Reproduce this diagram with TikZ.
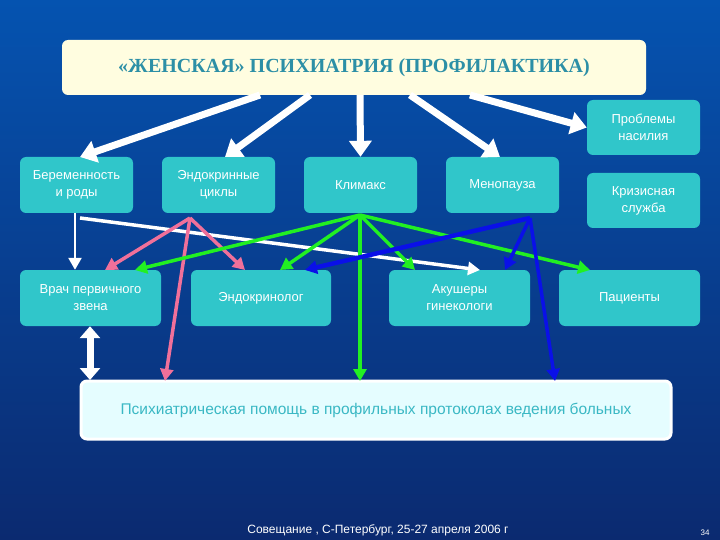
\documentclass[tikz,border=0pt]{standalone}
\usepackage{fontspec}
\setmainfont{Liberation Sans}
\newfontfamily\serifb{Liberation Serif}
\usetikzlibrary{arrows.meta}
\definecolor{bxc}{HTML}{30C6CA}
\definecolor{bgtop}{HTML}{0553B0}
\definecolor{bgbot}{HTML}{0B2A70}
\definecolor{ttl}{HTML}{2C8FA6}
\definecolor{pinkc}{HTML}{F0709A}
\definecolor{greenc}{HTML}{22F022}
\definecolor{bluec}{HTML}{0A10E8}
\definecolor{ptxt}{HTML}{3AB8C4}
\begin{document}
\begin{tikzpicture}[x=1pt,y=-1pt,
 bx/.style={fill=bxc,rounded corners=6pt,text=white,font=\fontsize{13}{17}\selectfont,align=center,inner sep=0pt},
 wbig/.style={draw=white,line width=7pt,-{Triangle[length=16pt,width=22pt]}},
 thin/.style={line width=3.5pt,-{Triangle[length=12pt,width=13pt]}}]
\shade[top color=bgtop,bottom color=bgbot] (0,0) rectangle (720,540);
\useasboundingbox (0,0) rectangle (720,540);
\node[fill=yellow!12,rounded corners=6pt,minimum width=584pt,minimum height=55pt,text=ttl,font=\serifb\bfseries\fontsize{20}{24}\selectfont] (t) at (354,67.5) {«ЖЕНСКАЯ» ПСИХИАТРИЯ (ПРОФИЛАКТИКА)};
\node[bx,minimum width=113pt,minimum height=56pt] (b1) at (76.5,185) {Беременность\\и роды};
\node[bx,minimum width=113pt,minimum height=56pt] (b2) at (218.5,185) {Эндокринные\\циклы};
\node[bx,minimum width=113pt,minimum height=56pt] (b3) at (360.5,185) {Климакс};
\node[bx,minimum width=113pt,minimum height=56pt] (b4) at (502.5,185) {Менопауза};
\node[bx,minimum width=113pt,minimum height=55pt] (b5) at (643.5,127.5) {Проблемы\\насилия};
\node[bx,minimum width=113pt,minimum height=55pt] (b6) at (643.5,200.5) {Кризисная\\служба};
\node[bx,minimum width=141pt,minimum height=56pt] (c1) at (90.5,298) {Врач первичного\\звена};
\node[bx,minimum width=140pt,minimum height=56pt] (c2) at (261,298) {Эндокринолог};
\node[bx,minimum width=141pt,minimum height=56pt] (c3) at (459.5,298) {Акушеры\\гинекологи};
\node[bx,minimum width=141pt,minimum height=56pt] (c4) at (629.5,298) {Пациенты};
\node[fill=blue!8!cyan!10,draw=white,line width=3pt,rounded corners=6pt,minimum width=590pt,minimum height=58pt,text=ptxt,font=\fontsize{15.5}{18}\selectfont] (p) at (376,410) {Психиатрическая помощь в профильных протоколах ведения больных};
\coordinate (t1) at (260,95); \coordinate (t2) at (310,95); \coordinate (t3) at (360,95); \coordinate (t4) at (410,95); \coordinate (t5) at (470,95);
\draw[wbig] (t1) -- (80,157);
\draw[wbig] (t2) -- (225,157);
\draw[wbig] (t3) -- (b3.north);
\draw[wbig] (t4) -- (500,157);
\draw[wbig] (t5) -- (b5.west);
\draw[line width=2.5pt,white,-{Triangle[length=12pt,width=13pt]}] (75,213) -- (c1.north -| 75,0);
\draw[thin,white] (80,218) -- (480,270);
\coordinate (pk) at (190,218);
\draw[thin,pinkc] (pk) -- (105,270);
\draw[thin,pinkc] (pk) -- (245,270);
\draw[thin,pinkc] (pk) -- (165,381);
\coordinate (gr) at (360,215);
\foreach \e in {(135,270),(280,270),(415,270),(590,270),(360,381)}
  \draw[thin,greenc] (gr) -- \e;
\coordinate (bl) at (530,218);
\draw[thin,bluec,line width=4.5pt] (bl) -- (305,270);
\draw[thin,bluec] (bl) -- (505,270);
\draw[thin,bluec] (bl) -- (555,381);
\draw[draw=white,line width=7pt,{Triangle[length=12pt,width=20pt]}-{Triangle[length=12pt,width=20pt]}] (c1.south -| 90,0) -- (90,380);
\node[text=white,font=\fontsize{12}{14}\selectfont] (f) at (378,530) {Совещание , С-Петербург, 25-27 апреля 2006 г};
\node[text=white,font=\fontsize{8}{10}\selectfont] (n) at (705,533) {34};
\end{tikzpicture}
\end{document}
